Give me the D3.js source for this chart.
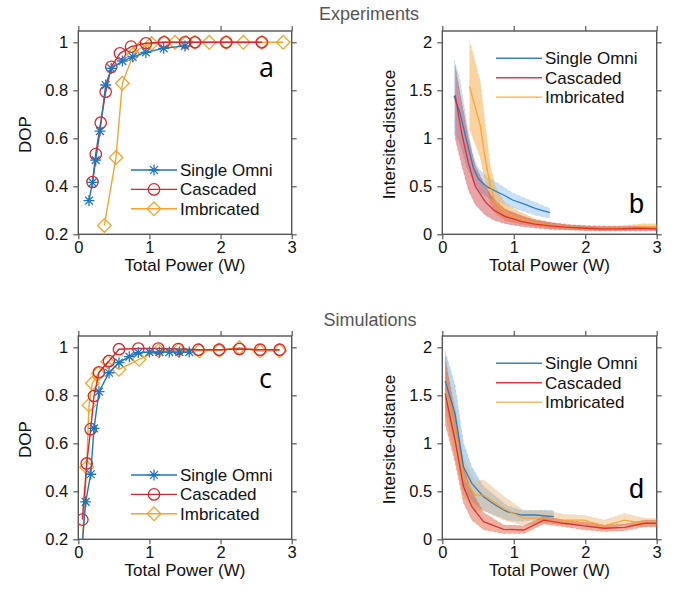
<!DOCTYPE html>
<html>
<head>
<meta charset="utf-8">
<script src="https://cdn.jsdelivr.net/npm/d3@7"></script>
<style>
body { margin: 0; background: #fff; }
svg { font-family: "Liberation Sans", Arial, sans-serif; }
</style>
</head>
<body>
<svg id="fig" width="688" height="597"></svg>
<script>
// ---- experiments, DOP (panel a)
var expOmniX = [0.15, 0.2, 0.245, 0.305, 0.385, 0.464, 0.62, 0.765, 0.95, 1.2, 1.5];
var expOmniDop = [0.34, 0.416, 0.509, 0.63, 0.822, 0.891, 0.922, 0.939, 0.958, 0.975, 0.985];
var expCascX = [0.2, 0.245, 0.315, 0.385, 0.464, 0.586, 0.741, 0.952, 1.205, 1.5, 1.64, 2.08, 2.58];
var expCascDop = [0.418, 0.534, 0.665, 0.794, 0.898, 0.954, 0.982, 0.996, 1, 1, 1, 1, 1];
var expImbX = [0.366, 0.53, 0.619, 0.774, 0.868, 1.03, 1.21, 1.36, 1.515, 1.64, 1.84, 2.08, 2.32, 2.58, 2.88];
var expImbDop = [0.237, 0.52, 0.829, 0.95, 0.975, 0.995, 1, 1, 1, 1, 1, 1, 1, 1, 1];

// ---- experiments, intersite distance (panel b)
var expDistOmniX = [0.165, 0.249, 0.343, 0.436, 0.507, 0.624, 0.741, 0.858, 0.985, 1.14, 1.3, 1.505];
var expDistOmni = [1.44, 1.26, 0.965, 0.687, 0.576, 0.496, 0.451, 0.409, 0.357, 0.316, 0.27, 0.225];
var expDistOmniLo = [1.05, 0.95, 0.7, 0.55, 0.45, 0.39, 0.35, 0.32, 0.28, 0.24, 0.2, 0.17];
var expDistOmniHi = [1.82, 1.6, 1.15, 0.8, 0.68, 0.6, 0.55, 0.49, 0.43, 0.38, 0.33, 0.27];
var expDistCascX = [0.18, 0.272, 0.366, 0.46, 0.6, 0.717, 0.882, 1.116, 1.3, 1.54, 1.77, 2.01, 2.24, 2.48, 2.71, 3.0];
var expDistCasc = [1.45, 1.05, 0.74, 0.5, 0.34, 0.253, 0.184, 0.132, 0.107, 0.086, 0.073, 0.063, 0.056, 0.056, 0.063, 0.056];
var expDistCascLo = [1.0, 0.72, 0.46, 0.31, 0.2, 0.15, 0.11, 0.08, 0.065, 0.05, 0.045, 0.04, 0.035, 0.035, 0.035, 0.035];
var expDistCascHi = [1.75, 1.38, 1.0, 0.72, 0.5, 0.37, 0.26, 0.19, 0.15, 0.12, 0.1, 0.09, 0.085, 0.08, 0.085, 0.08];
var expDistImbX = [0.38, 0.53, 0.6, 0.67, 0.74, 0.88, 1.07, 1.3, 1.54, 1.77, 2.01, 2.24, 2.52, 2.8, 3.0];
var expDistImb = [1.54, 1.14, 0.79, 0.51, 0.34, 0.22, 0.167, 0.115, 0.086, 0.073, 0.063, 0.056, 0.06, 0.08, 0.08];
var expDistImbLo = [1.1, 0.8, 0.55, 0.33, 0.22, 0.14, 0.11, 0.085, 0.06, 0.05, 0.04, 0.04, 0.045, 0.05, 0.05];
var expDistImbHi = [2.02, 1.6, 1.15, 0.72, 0.5, 0.32, 0.24, 0.16, 0.12, 0.1, 0.09, 0.085, 0.09, 0.11, 0.11];

// ---- simulations, DOP (panel c)
var simOmniX = [0.04, 0.104, 0.174, 0.221, 0.291, 0.432, 0.572, 0.718, 0.844, 1.0, 1.14, 1.28, 1.42, 1.56];
var simOmniDop = [0.12, 0.356, 0.471, 0.662, 0.815, 0.894, 0.936, 0.961, 0.978, 0.98, 0.98, 0.98, 0.98, 0.98];
var simCascX = [0.057, 0.118, 0.174, 0.221, 0.291, 0.432, 0.572, 0.844, 1.125, 1.406, 1.688, 1.98, 2.265, 2.556, 2.83];
var simCascDop = [0.282, 0.516, 0.659, 0.797, 0.896, 0.943, 0.992, 0.995, 0.995, 0.993, 0.99, 0.99, 0.993, 0.99, 0.99];
var simImbX = [0.04, 0.118, 0.15, 0.197, 0.281, 0.413, 0.572, 0.854, 1.13, 1.41, 1.7, 1.98, 2.265, 2.556, 2.83];
var simImbDop = [0.1, 0.5, 0.759, 0.85, 0.891, 0.94, 0.908, 0.95, 0.986, 0.988, 0.986, 0.988, 0.998, 0.984, 0.986];

// ---- simulations, intersite distance (panel d)
var simDistOmniX = [0.04, 0.179, 0.296, 0.413, 0.577, 0.741, 0.905, 1.116, 1.3, 1.56];
var simDistOmni = [1.65, 1.31, 0.756, 0.583, 0.444, 0.357, 0.288, 0.253, 0.253, 0.236];
var simDistOmniLo = [1.4, 1.0, 0.55, 0.4, 0.3, 0.25, 0.2, 0.19, 0.2, 0.2];
var simDistOmniHi = [1.96, 1.6, 1.0, 0.75, 0.55, 0.45, 0.35, 0.3, 0.3, 0.3];
var simDistCascX = [0.04, 0.179, 0.296, 0.413, 0.577, 0.858, 1.14, 1.42, 1.7, 1.98, 2.265, 2.55, 2.83, 3.0];
var simDistCasc = [1.52, 1.03, 0.55, 0.34, 0.183, 0.104, 0.097, 0.2, 0.167, 0.139, 0.115, 0.125, 0.167, 0.167];
var simDistCascLo = [1.2, 0.8, 0.38, 0.2, 0.1, 0.06, 0.06, 0.16, 0.13, 0.1, 0.08, 0.09, 0.13, 0.13];
var simDistCascHi = [1.9, 1.3, 0.75, 0.5, 0.28, 0.15, 0.14, 0.24, 0.2, 0.18, 0.15, 0.16, 0.2, 0.2];
var simDistImbX = [0.04, 0.179, 0.296, 0.46, 0.577, 0.858, 1.14, 1.42, 1.7, 1.98, 2.265, 2.55, 2.83, 3.0];
var simDistImb = [1.57, 1.1, 0.65, 0.46, 0.46, 0.32, 0.22, 0.22, 0.2, 0.2, 0.139, 0.2, 0.167, 0.167];
var simDistImbLo = [1.3, 0.85, 0.45, 0.3, 0.3, 0.2, 0.15, 0.17, 0.15, 0.15, 0.1, 0.15, 0.13, 0.13];
var simDistImbHi = [1.85, 1.4, 0.85, 0.6, 0.62, 0.45, 0.3, 0.3, 0.26, 0.25, 0.2, 0.27, 0.22, 0.22];

var seriesNames = ["Single Omni", "Cascaded", "Imbricated"];
var xTicks = [0, 1, 2, 3];
var dopTicks = [0.2, 0.4, 0.6, 0.8, 1];
var distTicks = [0, 0.5, 1, 1.5, 2];

var BLUE = "#1f76bd", RED = "#d9262c", ORANGE = "#f7a22e";
var colors = [BLUE, RED, ORANGE];
var svg = d3.select("#fig");
var fmt = d3.format("~g");
var clipId = 0;

function zip(xs, ys, lo, hi) {
    return xs.map(function(x, i) {
        return {x: x, y: ys[i], lo: lo ? lo[i] : null, hi: hi ? hi[i] : null};
    });
}

function makePanel(box, yDom, yTicks, ylabel) {
    // box: left, right, top, bottom (px). first y tick sits 11px under the frame top
    var x = d3.scaleLinear().domain([0, 3]).range([box.left, box.right]);
    var y = d3.scaleLinear().domain(yDom).range([box.bottom, box.top + 11.3]);
    var g = svg.append("g");
    var id = "clip" + (clipId++);
    g.append("clipPath").attr("id", id).append("rect")
        .attr("x", box.left).attr("y", box.top)
        .attr("width", box.right - box.left).attr("height", box.bottom - box.top);

    var axes = [
        d3.axisLeft(y).tickValues(yTicks).tickFormat(fmt),
        d3.axisRight(y).tickValues(yTicks).tickFormat(""),
        d3.axisBottom(x).tickValues(xTicks).tickFormat(fmt),
        d3.axisTop(x).tickValues(xTicks).tickFormat("")
    ];
    var pos = ["translate(" + box.left + ",0)", "translate(" + box.right + ",0)",
               "translate(0," + box.bottom + ")", "translate(0," + box.top + ")"];
    axes.forEach(function(ax, i) {
        var a = g.append("g").attr("transform", pos[i])
            .call(ax.tickSize(5).tickPadding(i == 2 ? 2 : 5));
        a.select(".domain").remove();
        a.selectAll("line").attr("stroke", "#555").attr("stroke-width", 1.2);
        a.selectAll("text").attr("font-size", 16.5).attr("fill", "#111")
            .attr("font-family", "Liberation Sans, Arial, sans-serif");
    });
    g.append("rect").attr("x", box.left).attr("y", box.top)
        .attr("width", box.right - box.left).attr("height", box.bottom - box.top)
        .attr("fill", "none").attr("stroke", "#555").attr("stroke-width", 1.4);

    g.append("text").attr("x", (box.left + box.right) / 2).attr("y", box.bottom + 37)
        .attr("text-anchor", "middle").attr("font-size", 17).attr("fill", "#111")
        .text("Total Power (W)");
    g.append("text")
        .attr("transform", "translate(" + (box.left - 47) + "," + ((box.top + box.bottom) / 2 + 2) + ") rotate(-90)")
        .attr("text-anchor", "middle").attr("font-size", 17).attr("fill", "#111")
        .text(ylabel);

    var plot = g.append("g").attr("clip-path", "url(#" + id + ")");
    return {x: x, y: y, g: g, plot: plot, box: box};
}

function marker(sel, type, color) {
    if (type == 0) {
        sel.append("path").attr("d", "M-5.5,0H5.5M0,-5.5V5.5M-3.9,-3.9L3.9,3.9M-3.9,3.9L3.9,-3.9")
            .attr("stroke", color).attr("stroke-width", 1.3).attr("fill", "none");
    } else if (type == 1) {
        sel.append("circle").attr("r", 5.7).attr("fill", "none")
            .attr("stroke", color).attr("stroke-width", 1.3);
    } else {
        sel.append("path").attr("d", "M0,-6.8L6.8,0L0,6.8L-6.8,0Z").attr("fill", "none")
            .attr("stroke", color).attr("stroke-width", 1.3);
    }
}

function dopSeries(p, data, type, color) {
    var line = d3.line().x(function(d) { return p.x(d.x); }).y(function(d) { return p.y(d.y); });
    p.plot.append("path").datum(data).attr("d", line).attr("fill", "none")
        .attr("stroke", color).attr("stroke-width", 1.4);
    p.plot.selectAll(null).data(data).enter().append("g")
        .attr("transform", function(d) { return "translate(" + p.x(d.x) + "," + p.y(d.y) + ")"; })
        .each(function() { marker(d3.select(this), type, color); });
}

function bandSeries(p, data, color, fillOp) {
    var area = d3.area().x(function(d) { return p.x(d.x); })
        .y0(function(d) { return p.y(d.lo); }).y1(function(d) { return p.y(d.hi); });
    p.plot.append("path").datum(data).attr("d", area)
        .attr("fill", color).attr("fill-opacity", fillOp);
    ["lo", "hi"].forEach(function(k) {
        var edge = d3.line().x(function(d) { return p.x(d.x); }).y(function(d) { return p.y(d[k]); });
        p.plot.append("path").datum(data).attr("d", edge).attr("fill", "none")
            .attr("stroke", color).attr("stroke-opacity", 0.3).attr("stroke-width", 0.8)
            .attr("stroke-dasharray", "3,2");
    });
}

function bandLine(p, data, color) {
    var line = d3.line().x(function(d) { return p.x(d.x); }).y(function(d) { return p.y(d.y); });
    p.plot.append("path").datum(data).attr("d", line).attr("fill", "none")
        .attr("stroke", color).attr("stroke-width", 1.3).attr("stroke-opacity", 0.9);
}

function legend(p, lx, ly, withMarkers) {
    seriesNames.forEach(function(name, i) {
        var yy = ly + i * 19.4;
        p.g.append("line").attr("x1", lx).attr("x2", lx + 46).attr("y1", yy).attr("y2", yy)
            .attr("stroke", colors[i]).attr("stroke-width", 1.4)
            .attr("stroke-opacity", withMarkers ? 1 : 0.9);
        if (withMarkers) {
            var m = p.g.append("g").attr("transform", "translate(" + (lx + 23) + "," + yy + ")");
            marker(m, i, colors[i]);
        }
        p.g.append("text").attr("x", lx + 49).attr("y", yy + 6).attr("font-size", 17)
            .attr("fill", "#111").text(name);
    });
}

function letter(p, txt, lx, ly, family) {
    p.g.append("text").attr("x", lx).attr("y", ly).attr("font-size", 27)
        .attr("font-family", family).attr("fill", "#000").text(txt);
}

// titles
svg.append("text").attr("x", 369).attr("y", 20).attr("text-anchor", "middle")
    .attr("font-size", 18).attr("fill", "#555").text("Experiments");
svg.append("text").attr("x", 370).attr("y", 326).attr("text-anchor", "middle")
    .attr("font-size", 18).attr("fill", "#555").text("Simulations");

// panel a
var pa = makePanel({left: 78.3, right: 291.7, top: 31, bottom: 234.3}, [0.2, 1], dopTicks, "DOP");
dopSeries(pa, zip(expImbX, expImbDop), 2, ORANGE);
dopSeries(pa, zip(expCascX, expCascDop), 1, RED);
dopSeries(pa, zip(expOmniX, expOmniDop), 0, BLUE);
legend(pa, 131, 170, true);
letter(pa, "a", 259, 77, "Open Sans, sans-serif");

// panel b
var pb = makePanel({left: 442.3, right: 656.7, top: 31, bottom: 234.3}, [0, 2], distTicks, "Intersite-distance");
bandSeries(pb, zip(expDistOmniX, expDistOmni, expDistOmniLo, expDistOmniHi), "#4a9be0", 0.3);
bandSeries(pb, zip(expDistImbX, expDistImb, expDistImbLo, expDistImbHi), "#f5a742", 0.5);
bandSeries(pb, zip(expDistCascX, expDistCasc, expDistCascLo, expDistCascHi), "#c8383c", 0.45);
bandLine(pb, zip(expDistOmniX, expDistOmni), BLUE);
bandLine(pb, zip(expDistImbX, expDistImb), ORANGE);
bandLine(pb, zip(expDistCascX, expDistCasc), RED);
legend(pb, 496, 58.3, false);
letter(pb, "b", 629, 213, "Liberation Sans, Arial, sans-serif");

// panel c
var pc = makePanel({left: 78.3, right: 291.7, top: 336, bottom: 539.3}, [0.2, 1], dopTicks, "DOP");
dopSeries(pc, zip(simImbX, simImbDop), 2, ORANGE);
dopSeries(pc, zip(simCascX, simCascDop), 1, RED);
dopSeries(pc, zip(simOmniX, simOmniDop), 0, BLUE);
legend(pc, 131, 475, true);
letter(pc, "c", 259, 388, "Open Sans, sans-serif");

// panel d
var pd = makePanel({left: 442.3, right: 656.7, top: 336, bottom: 539.3}, [0, 2], distTicks, "Intersite-distance");
bandSeries(pd, zip(simDistOmniX, simDistOmni, simDistOmniLo, simDistOmniHi), "#4a9be0", 0.4);
bandSeries(pd, zip(simDistImbX, simDistImb, simDistImbLo, simDistImbHi), "#e8b478", 0.45);
bandSeries(pd, zip(simDistCascX, simDistCasc, simDistCascLo, simDistCascHi), "#d9502c", 0.45);
bandLine(pd, zip(simDistOmniX, simDistOmni), BLUE);
bandLine(pd, zip(simDistImbX, simDistImb), ORANGE);
bandLine(pd, zip(simDistCascX, simDistCasc), RED);
legend(pd, 496, 363.3, false);
letter(pd, "d", 629, 498, "Liberation Sans, Arial, sans-serif");
</script>
</body>
</html>
